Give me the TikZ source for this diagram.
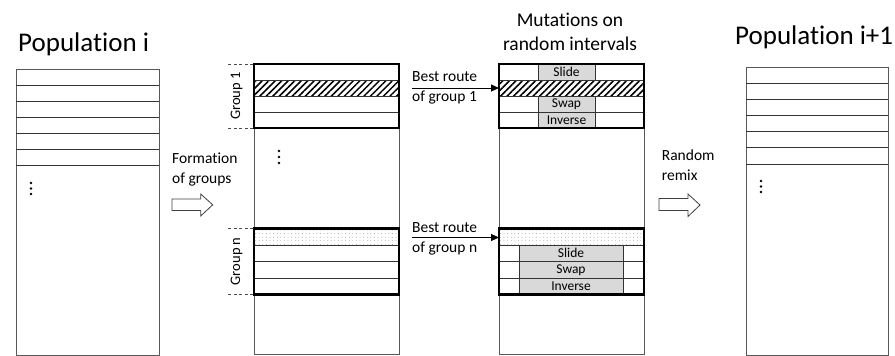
\documentclass[tikz,border=0pt]{standalone}
\usepackage{fontspec}
\setmainfont{Carlito}[Ligatures=NoCommon]
\usetikzlibrary{patterns.meta,arrows.meta}
\begin{document}
\begin{tikzpicture}[x=1pt,y=-1pt,
  thinline/.style={draw=black!80,line width=0.8pt},
  outline/.style={draw=black!65,line width=0.9pt},
  thickbox/.style={draw=black,line width=2.8pt,inner sep=0pt,outer sep=0pt,minimum width=145pt,minimum height=64pt},
  rowbox/.style={inner sep=0pt,outer sep=0pt,minimum width=145pt,minimum height=16pt},
  hatch/.style={pattern={Lines[angle=45,distance=4.6pt,line width=1.5pt]},pattern color=black},
  dotfill/.style={pattern={Dots[distance=3.6pt,radius=0.35pt]},pattern color=black!60},
  mut/.style={fill=black!15,draw=black!80,line width=0.8pt,inner sep=0pt,outer sep=0pt,font=\fontsize{13.5}{15}\selectfont},
  lbl/.style={font=\fontsize{15.5}{19}\selectfont,inner sep=0pt,anchor=base west},
  ttl/.style={font=\fontsize{27}{30}\selectfont,inner sep=0pt,anchor=base west},
  mtitle/.style={font=\fontsize{19.5}{23}\selectfont,inner sep=0pt,anchor=base},
  grp/.style={font=\fontsize{14.5}{16}\selectfont,inner sep=0pt,rotate=90},
  dashline/.style={draw=black!70,line width=0.9pt,dash pattern=on 3pt off 2.5pt},
  blockarrow/.style={draw=black!75,line width=0.8pt,fill=white},
  bestarrow/.style={draw=black,line width=0.9pt,-{Triangle[length=8pt,width=7pt]}},
  vdot/.style={fill=black,draw=none}
]
\useasboundingbox (0,0) rectangle (895,356);

% ---------- titles ----------
\node[ttl] (t1) at (18,51.7) {Population i};
\node[ttl] (t2) at (735,45) {Population i+1};
\node[mtitle] (t3) at (570,26) {Mutations on};
\node[mtitle] (t4) at (570,50) {random intervals};

% ---------- population i ----------
\draw[outline] (16,69) rectangle (159,355);
\foreach \y in {85,101,117,133,149,165} \draw[thinline] (16,\y) -- (159,\y);
\foreach \y in {183,188.5,194} \fill[vdot] (31,\y) circle (1.4pt);

% ---------- formation of groups ----------
\node[lbl] (f1) at (172,163.3) {Formation};
\node[lbl] (f2) at (172,183) {of groups};
\draw[blockarrow] (172,199) -- (200.7,199) -- (200.7,194) -- (212.7,204.8) -- (200.7,216) -- (200.7,210.5) -- (172,210.5) -- cycle;

% ---------- grouped population ----------
\draw[outline] (254,64) rectangle (399,354.5);
\node[rowbox,hatch] (gh1) at (326.5,88) {};
\node[rowbox,dotfill,minimum height=16.7pt] (gd1) at (326.5,236.65) {};
\draw[thinline] (254,80) -- (399,80);
\draw[thinline] (254,96) -- (399,96);
\draw[thinline] (254,112) -- (399,112);
\draw[thinline] (254,245) -- (399,245);
\draw[thinline] (254,261.7) -- (399,261.7);
\draw[thinline] (254,278.3) -- (399,278.3);
\node[thickbox] (g1) at (326.5,96) {};
\node[thickbox,minimum height=66pt] (gn) at (326.5,261.3) {};
\foreach \y in {64,128,228.3,294.3} \draw[dashline] (228,\y) -- (254,\y);
\node[grp] (gl1) at (236.5,96) {Group 1};
\node[grp] (gln) at (236.5,261.3) {Group n};
\foreach \y in {151,157,163} \fill[vdot] (279,\y) circle (1.4pt);

% ---------- best routes ----------
\node[lbl] (b1a) at (412,81.7) {Best route};
\node[lbl] (b1b) at (412,101) {of group 1};
\node[lbl] (bna) at (412,232.7) {Best route};
\node[lbl] (bnb) at (412,252) {of group n};

% ---------- mutated population ----------
\draw[outline] (499,64) rectangle (644,354.5);
\node[rowbox,hatch] (mh1) at (571.5,88) {};
\node[rowbox,dotfill,minimum height=16.7pt] (md1) at (571.5,236.65) {};
\draw[thinline] (499,80) -- (644,80);
\draw[thinline] (499,96) -- (644,96);
\draw[thinline] (499,112.5) -- (644,112.5);
\draw[thinline] (499,245) -- (644,245);
\draw[thinline] (499,261.7) -- (644,261.7);
\draw[thinline] (499,278.3) -- (644,278.3);
\node[mut,minimum width=57pt,minimum height=16pt] (s1) at (566.5,72) {Slide};
\node[mut,minimum width=57pt,minimum height=16.5pt] (w1) at (566.5,104.25) {Swap};
\node[mut,minimum width=57pt,minimum height=15.5pt] (i1) at (566.5,120.25) {Inverse};
\node[mut,minimum width=104pt,minimum height=16.7pt] (s2) at (571,253.35) {Slide};
\node[mut,minimum width=104pt,minimum height=16.6pt] (w2) at (571,270) {Swap};
\node[mut,minimum width=104pt,minimum height=16pt] (i2) at (571,286.3) {Inverse};
\node[thickbox] (m1) at (571.5,96) {};
\node[thickbox,minimum height=66pt] (mn) at (571.5,261.3) {};

\coordinate (c1) at (412,88);
\coordinate (cn) at (412,237.5);
\draw[bestarrow] (c1) -- (mh1.west);
\draw[bestarrow] (cn) -- (md1.west |- cn);

% ---------- random remix ----------
\node[lbl] (r1) at (661.7,160) {Random};
\node[lbl] (r2) at (661.7,180) {remix};
\draw[blockarrow] (659,198.5) -- (688,198.5) -- (688,194) -- (700,205) -- (688,216.5) -- (688,210.5) -- (659,210.5) -- cycle;

% ---------- population i+1 ----------
\draw[outline] (746,67) rectangle (888,355);
\foreach \y in {83,99,115,131,147,164} \draw[thinline] (746,\y) -- (888,\y);
\foreach \y in {181,186.5,192} \fill[vdot] (761,\y) circle (1.4pt);
\end{tikzpicture}
\end{document}
